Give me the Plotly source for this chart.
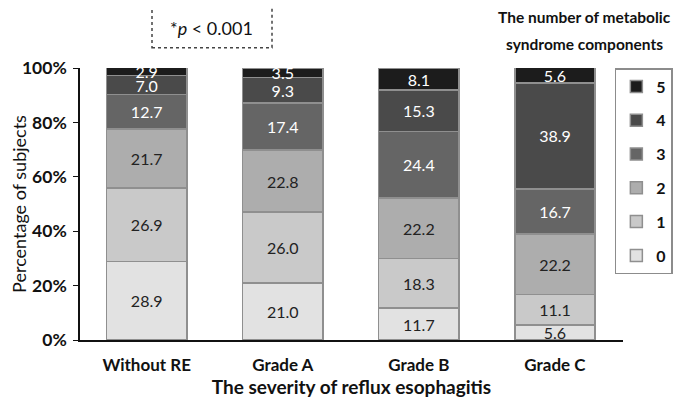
import plotly.graph_objects as go

categories = ["Without RE", "Grade A", "Grade B", "Grade C"]
components = ["0", "1", "2", "3", "4", "5"]
values = {
    "0": [28.9, 21.0, 11.7, 5.6],
    "1": [26.9, 26.0, 18.3, 11.1],
    "2": [21.7, 22.8, 22.2, 22.2],
    "3": [12.7, 17.4, 24.4, 16.7],
    "4": [7.0, 9.3, 15.3, 38.9],
    "5": [2.9, 3.5, 8.1, 5.6],
}
colors = {"0": "#e2e2e2", "1": "#c9c9c9", "2": "#adadad",
          "3": "#656565", "4": "#4a4a4a", "5": "#1c1c1c"}
text_colors = {"0": "#222222", "1": "#222222", "2": "#222222",
               "3": "#ffffff", "4": "#ffffff", "5": "#ffffff"}

FONT = "Lato"
fig = go.Figure()
for i, c in enumerate(components):
    fig.add_trace(go.Bar(
        x=categories, y=values[c], name=c,
        marker=dict(color=colors[c], line=dict(color="#8f8f8f", width=1.5)),
        text=[f"{v:.1f}" for v in values[c]],
        textposition="inside", insidetextanchor="middle",
        textfont=dict(family=FONT, size=16, color=text_colors[c]),
        legendgroup=c, legendrank=len(components) - i, width=0.59,
    ))

fig.update_layout(
    barmode="stack",
    width=685, height=405,
    margin=dict(l=72, r=70, t=60, b=73, autoexpand=False),
    plot_bgcolor="white", paper_bgcolor="white",
    font=dict(family=FONT, color="#111111"),
    uniformtext=dict(minsize=16, mode="show"),
    showlegend=True,
    legend=dict(
        traceorder="grouped", tracegroupgap=10,
        x=0.985, xanchor="left", y=1.0, yanchor="top",
        bordercolor="#8c8c8c", borderwidth=1.5,
        font=dict(family=FONT, size=16, color="#111111", weight="bold"),
        itemwidth=30,
    ),
    xaxis=dict(
        range=[-0.49, 3.50], showline=True, linecolor="#111111", linewidth=1.5,
        tickfont=dict(family=FONT, size=17, color="#111111", weight="bold"),
        ticks="", ticklabelstandoff=9,
        title=dict(text="<b>The severity of reflux esophagitis</b>",
                   font=dict(family=FONT, size=19), standoff=5),
    ),
    yaxis=dict(
        range=[0, 100], tickvals=[0, 20, 40, 60, 80, 100],
        ticktext=["0%", "20%", "40%", "60%", "80%", "100%"],
        showline=True, linecolor="#111111", linewidth=1.5,
        ticks="outside", ticklen=5, tickcolor="#111111",
        showgrid=False, zeroline=False, ticklabelstandoff=3,
        tickfont=dict(family=FONT, size=17.5, color="#111111", weight="bold"),
        title=dict(text="Percentage of subjects", font=dict(family=FONT, size=18), standoff=7),
    ),
    annotations=[
        dict(text="*<i>p</i> < 0.001", xref="paper", yref="paper",
             x=0.243, y=1.148, xanchor="center", yanchor="middle", showarrow=False,
             font=dict(family=FONT, size=18, color="#111111")),
        dict(text="<b>The number of metabolic</b>",
             xref="paper", yref="paper", x=0.93, y=1.1875, xanchor="center", yanchor="middle",
             showarrow=False, font=dict(family=FONT, size=15.5, color="#111111")),
        dict(text="<b>syndrome components</b>",
             xref="paper", yref="paper", x=0.93, y=1.088, xanchor="center", yanchor="middle",
             showarrow=False, font=dict(family=FONT, size=15.5, color="#111111")),
    ],
    shapes=[dict(type="rect", xref="paper", yref="paper", x0=0.1326, x1=0.3536,
                 y0=1.074, y1=1.243, line=dict(color="#444444", width=1.5, dash="dot"))],
)
fig.write_html("out.html")
